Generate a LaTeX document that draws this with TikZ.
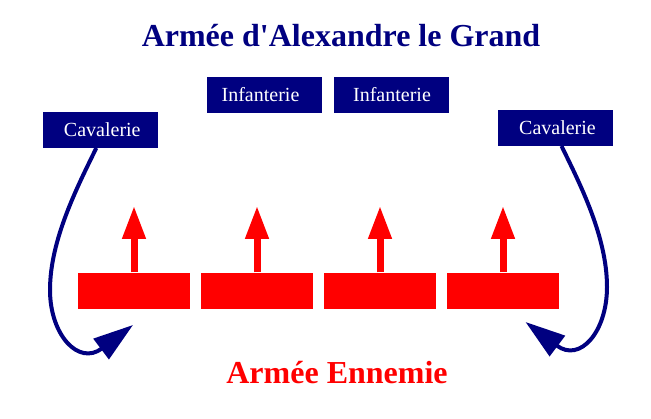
\documentclass[tikz,border=0pt]{standalone}
\usepackage{fontspec}
\setmainfont{Liberation Serif}
\newfontfamily\droit{Liberation Serif}
\usepackage{tikz}
\usetikzlibrary{arrows.meta}
\definecolor{marine}{RGB}{0,0,128}
\definecolor{rouge}{RGB}{255,0,0}

\begin{document}
\begin{tikzpicture}[x=1pt,y=-1pt,line cap=butt,
  troupe/.style={fill=marine,text=white,inner sep=0pt,minimum width=115pt,minimum height=36pt,font=\fontsize{20}{24}\selectfont},
  ligne/.style={fill=rouge,inner sep=0pt,minimum width=111.3pt,minimum height=36pt},
  avance/.style={rouge,line width=7pt,-{Triangle[length=33pt,width=22pt]}},
  manoeuvre/.style={marine,line width=4pt,-{Triangle[length=40pt,width=25pt]}},
  titre/.style={anchor=base,inner sep=0pt,font=\droit\fontsize{32}{38}\selectfont\bfseries}]
\fill[white] (0,0) rectangle (651,419);
\node[titre,text=marine] (grec) at (341,46.7) {Armée d'Alexandre le Grand};
\node[titre,text=rouge] (ennemi) at (337,383.3) {Armée Ennemie};
\node[troupe] (inf1) at (264.5,94.8) {\hspace*{-8pt}Infanterie};
\node[troupe] (inf2) at (391.5,94.8) {\hspace*{1pt}Infanterie};
\node[troupe] (cavG) at (100.3,129.8) {\hspace*{4pt}Cavalerie};
\node[troupe] (cavD) at (555.5,127.8) {\hspace*{4pt}Cavalerie};
\foreach \i in {0,...,3}{
  \node[ligne] (bloc\i) at ({134+123*\i},290.7) {};
  \draw[avance] (bloc\i.north) -- ++(0,-66.7);
}
\coordinate (crochetG) at (50,290);
\coordinate (crochetD) at (607,287);
\coordinate (flancG) at (133,325);
\coordinate (flancD) at (525.5,322);
\draw[manoeuvre] ([xshift=-4pt]cavG.south) .. controls +(-19,39) and +(0,-50) .. (crochetG)
  .. controls +(0,45) and +(-54.4,41) .. (flancG);
\draw[manoeuvre] ([xshift=6pt]cavD.south) .. controls +(19,39) and +(0,-50) .. (crochetD)
  .. controls +(0,45) and +(54.4,41) .. (flancD);
\end{tikzpicture}
\end{document}
